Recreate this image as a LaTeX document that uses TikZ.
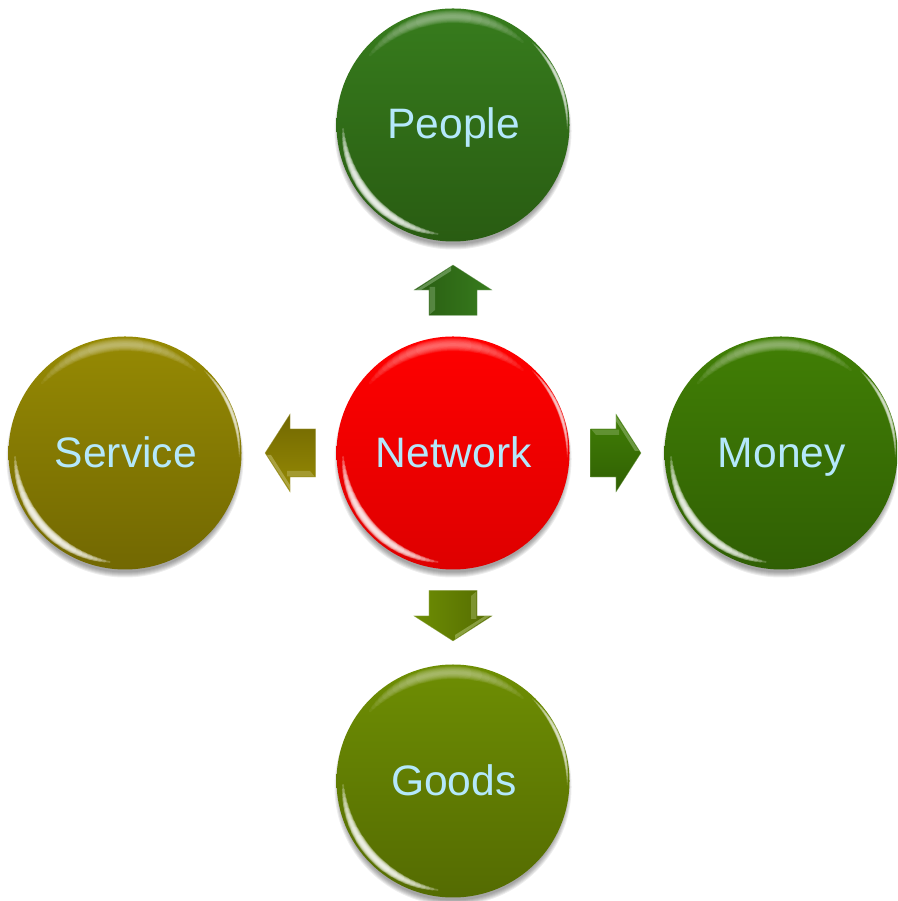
\documentclass[tikz,border=0pt]{standalone}
\usepackage{fontspec}
\setmainfont{Liberation Sans}
\usetikzlibrary{shapes.arrows,calc}
\definecolor{txt}{HTML}{B4E8FB}
\definecolor{netT}{HTML}{FF0000}\definecolor{netB}{HTML}{DE0000}
\definecolor{pplT}{HTML}{377C1D}\definecolor{pplB}{HTML}{295C12}
\definecolor{monT}{HTML}{417F05}\definecolor{monB}{HTML}{305F04}
\definecolor{svcT}{HTML}{968A03}\definecolor{svcB}{HTML}{726802}
\definecolor{gooT}{HTML}{6E8E03}\definecolor{gooB}{HTML}{546B02}
\tikzset{
  ball/.style={circle,minimum size=233pt,inner sep=0pt,outer sep=0pt},
  balltext/.style={inner sep=0pt,outer sep=0pt,anchor=base,text=txt,font=\fontsize{42.6}{50}\selectfont},
  blockarrow/.style={single arrow,minimum height=50.5pt,inner xsep=0pt,inner ysep=24pt,outer sep=0pt,
    text width=0pt,text height=0pt,text depth=0pt,
    single arrow head extend=15pt,single arrow tip angle=114.6}
}
\newcommand{\ballshadow}[1]{%
  \foreach \e in {2,1,0,-1,-2,-3}{\fill[black,opacity=.07] ($(#1)+(0,-6pt)$) circle ({116.5pt+\e pt});}}
% nested soft arc: long thin strokes under short wide ones
\newcommand{\glowarc}[6]{%
  \foreach \n in {0,1,...,9}{%
    \pgfmathsetmacro{\ff}{1-\n/10}
    \pgfmathsetmacro{\hs}{#3*pow(\ff,0.6)}
    \pgfmathsetmacro{\wd}{#6*pow(1.1-\ff,0.7)}
    \pgfmathsetmacro{\sa}{#2-\hs}
    \pgfmathsetmacro{\ea}{#2+\hs}
    \pgfmathsetmacro{\RR}{116.5-#5}
    \draw[white,line cap=round,line width=\wd pt,opacity=#4] ($(#1)+(\sa:\RR pt)$) arc[start angle=\sa,end angle=\ea,radius=\RR pt];
  }}
\newcommand{\ballrims}[1]{%
  \glowarc{#1}{222}{40}{.2}{6.5}{9}
  \glowarc{#1}{95}{45}{.05}{8}{13}
  \glowarc{#1}{22}{24}{.14}{2.2}{4}}
\newcommand{\arrowfrom}[7]{%
  \coordinate (#1tip) at ($(#2.#3)+(#4:71.5pt)$);
  \begin{scope}[yshift=-3pt]
    \foreach \o in {.07,.07,.07}{%
    \begin{scope}[shift={(#1tip)},rotate=#4]
      \fill[black,opacity=\o] (0,0)--(-25,39)--(-25,24)--(-50.5,24)--(-50.5,-24)--(-25,-24)--(-25,-39)--cycle;
    \end{scope}}
  \end{scope}
  \node[blockarrow,rotate=#4,anchor=tip,top color=#5,bottom color=#6,shading angle=-#4] (#1) at (#1tip) {};
  \begin{scope}[shift={(#1tip)},rotate=#4]
    \fill[#7,opacity=.6] (-2,2)--(-25,37)--(-25,32)--(-6,2)--cycle;
    \fill[#7,opacity=.45] (-49.5,23.4)--(-22,23.4)--(-22,18)--(-45,18)--cycle;
    \draw[#7,opacity=.5,line width=.5pt] (0,0)--(-25,39)--(-25,24)--(-50.5,24)--(-50.5,-24)--(-25,-24)--(-25,-39)--cycle;
  \end{scope}}
\begin{document}
\begin{tikzpicture}[x=1pt,y=1pt]
\useasboundingbox (0,0) rectangle (897,901);
\clip (0,0) rectangle (897,901);
\coordinate (cN) at (453,448);
\coordinate (cP) at (453,776);
\coordinate (cM) at (781,448);
\coordinate (cS) at (125,448);
\coordinate (cG) at (453,120);
\foreach \c in {cN,cP,cM,cS,cG}{\ballshadow{\c}}
\node[ball,top color=netT,bottom color=netB] (net) at (cN) {};
\node[ball,top color=pplT,bottom color=pplB] (people) at (cP) {};
\node[ball,top color=monT,bottom color=monB] (money) at (cM) {};
\node[ball,top color=svcT,bottom color=svcB] (service) at (cS) {};
\node[ball,top color=gooT,bottom color=gooB] (goods) at (cG) {};
\foreach \c in {net,people,money,service,goods}{\ballrims{\c}}
\node[balltext] (netL) at ($(net)+(0.8,-14.8)$) {Network};
\node[balltext] (peopleL) at ($(people)+(0.8,-13.4)$) {People};
\node[balltext] (moneyL) at ($(money)+(0.8,-14.8)$) {Money};
\node[balltext] (serviceL) at ($(service)+(0.8,-14.8)$) {Service};
\node[balltext] (goodsL) at ($(goods)+(0.8,-14.8)$) {Goods};
\arrowfrom{aP}{net}{north}{90}{pplT}{pplB}{pplT!60!white}
\arrowfrom{aM}{net}{east}{0}{monT}{monB}{monT!60!white}
\arrowfrom{aS}{net}{west}{180}{svcT}{svcB}{svcT!60!white}
\arrowfrom{aG}{net}{south}{-90}{gooT}{gooB}{gooT!60!white}
\end{tikzpicture}
\end{document}
